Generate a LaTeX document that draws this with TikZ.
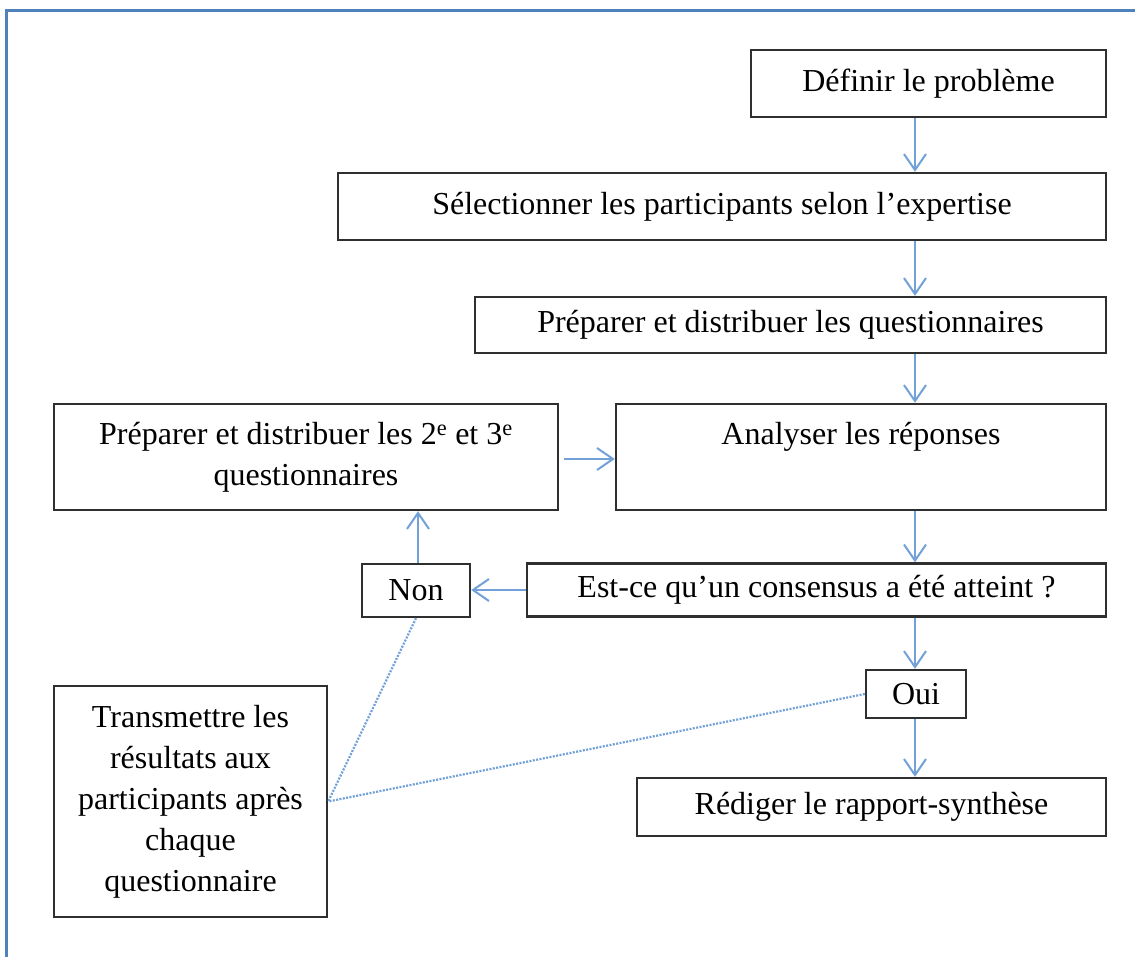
\documentclass[tikz,border=0pt]{standalone}
\usepackage{fontspec}
\setmainfont{Liberation Serif}
\usetikzlibrary{arrows.meta}
\definecolor{frameblue}{HTML}{4F81BD}
\definecolor{arrowblue}{HTML}{72A0D9}
\definecolor{boxline}{HTML}{2F2F2F}
\begin{document}
\begin{tikzpicture}[x=1pt, y=-1pt,
    font=\fontsize{32}{41}\selectfont,
    box/.style={draw=boxline, line width=2.4pt, align=center, inner sep=0pt},
    flow/.style={draw=arrowblue, line width=2pt,
      -{Straight Barb[length=16pt, width=22pt, line width=2pt]}},
    link/.style={draw=arrowblue, line width=2.2pt, dash pattern=on 2pt off 1.4pt}]
  % page frame
  \useasboundingbox (0,0) rectangle (1135,957);
  \draw[frameblue, line width=3pt] (6.5,957) -- (6.5,10.5) -- (1135,10.5);

  % main column
  \node[box, minimum width=355, minimum height=67] (def) at (928.5,83.5) {Définir le problème};
  \node[box, minimum width=768, minimum height=67] (sel) at (722,206.5) {Sélectionner les participants selon l’expertise};
  \node[box, minimum width=631, minimum height=56] (prep) at (790.5,325) {Préparer et distribuer les questionnaires};
  \node[box, minimum width=490, minimum height=106] (ana) at (861,457) {};
  \node (anatext) at (861,437) {Analyser les réponses};
  \node[box, minimum width=579, minimum height=53] (cons) at (816.5,590) {Est-ce qu’un consensus a été atteint ?};
  \node[box, minimum width=100, minimum height=48] (oui) at (916,694) {Oui};
  \node[box, minimum width=469, minimum height=58] (red) at (871.5,807) {Rédiger le rapport-synthèse};

  % loop branch
  \node[box, minimum width=504, minimum height=106] (prep2) at (306,457)
    {Préparer et distribuer les 2\textsuperscript{e} et 3\textsuperscript{e}\\questionnaires};
  \node[box, minimum width=108, minimum height=53] (non) at (416,590.5) {Non};
  \node[box, minimum width=273, minimum height=231] (trans) at (190.5,801.5)
    {Transmettre les\\résultats aux\\participants après\\chaque\\questionnaire};

  % vertical spine of the flow
  \coordinate (spine) at (915,0);
  \draw[flow] (def.south -| spine) -- (sel.north -| spine);
  \draw[flow] (sel.south -| spine) -- (prep.north -| spine);
  \draw[flow] (prep.south -| spine) -- (ana.north -| spine);
  \draw[flow] (ana.south -| spine) -- (cons.north -| spine);
  \draw[flow] (cons.south -| spine) -- (oui.north -| spine);
  \draw[flow] (oui.south -| spine) -- (red.north -| spine);

  % branch arrows
  \coordinate (nonx) at (418,0);
  \coordinate (branchy) at (0,590);
  \draw[flow] (cons.west |- branchy) -- (non.east |- branchy);
  \draw[flow] (non.north -| nonx) -- (prep2.south -| nonx);
  \coordinate (loopy) at (0,459);
  \draw[flow] ([xshift=5pt]prep2.east |- loopy) -- (ana.west |- loopy);

  % feedback links
  \draw[link] (non.south) -- (trans.east);
  \draw[link] (oui.west) -- (trans.east);
\end{tikzpicture}
\end{document}
